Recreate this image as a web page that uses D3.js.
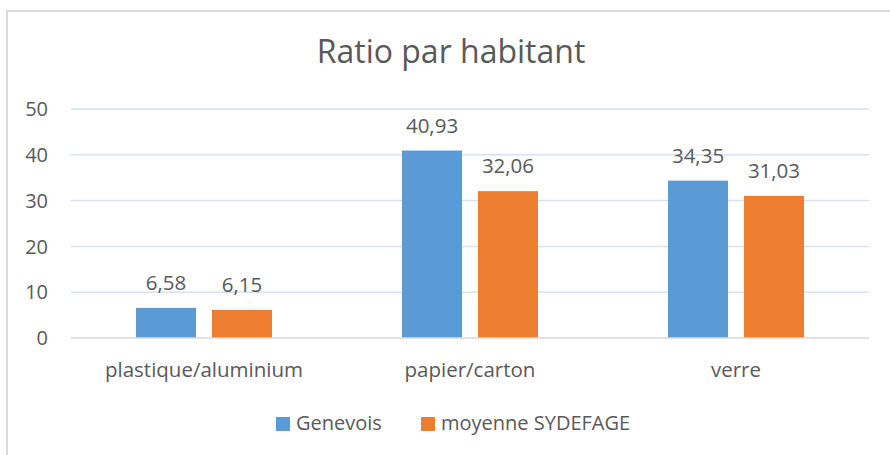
<!DOCTYPE html>
<html>
<head>
<meta charset="utf-8">
<script src="https://cdn.jsdelivr.net/npm/d3@7"></script>
<style>
  body { margin: 0; background: #fff; }
  text { font-family: "Open Sans", sans-serif; fill: #595959; }
</style>
</head>
<body>
<div id="chart"></div>
<script>
var categories = ['plastique/aluminium', 'papier/carton', 'verre'];
var series = ['Genevois', 'moyenne SYDEFAGE'];
var genevois = [6.58, 40.93, 34.35];
var sydefage = [6.15, 32.06, 31.03];
var yTicks = [0, 10, 20, 30, 40, 50];
var colors = ['#5b9bd5', '#ed7d31'];

var width = 890,
    height = 455;

var margin = { top: 109, right: 21, bottom: 117, left: 71 };

var svg = d3.select('#chart')
    .append('svg')
    .attr('width', width)
    .attr('height', height);

// chart frame
svg.append('rect')
    .attr('x', 7)
    .attr('y', 11)
    .attr('width', 1000)
    .attr('height', 600)
    .attr('fill', 'none')
    .attr('stroke', '#d9d9d9')
    .attr('stroke-width', 2);

var x0 = d3.scaleBand()
    .domain(categories)
    .range([margin.left, width - margin.right]);

var x1 = d3.scaleBand()
    .domain(series)
    .range([0, 136])
    .paddingInner(0.21);

var y = d3.scaleLinear()
    .domain([0, 50])
    .range([height - margin.bottom, margin.top]);

// gridlines
svg.append('g')
    .selectAll('line')
    .data(yTicks.slice(1))
    .enter()
    .append('line')
    .attr('x1', margin.left)
    .attr('x2', width - margin.right)
    .attr('y1', d => y(d))
    .attr('y2', d => y(d))
    .attr('stroke', '#d5e2f2')
    .attr('stroke-width', 1.5);

// y labels
svg.append('g')
    .selectAll('text')
    .data(yTicks)
    .enter()
    .append('text')
    .attr('x', 48)
    .attr('y', d => y(d))
    .attr('dy', '0.36em')
    .attr('text-anchor', 'end')
    .style('font-size', '20px')
    .text(d => d);

var rows = categories.map((c, i) => ({ cat: c, vals: [genevois[i], sydefage[i]] }));

var groups = svg.append('g')
    .selectAll('g')
    .data(rows)
    .enter()
    .append('g')
    .attr('transform', d => 'translate(' + (x0(d.cat) + (x0.bandwidth() - 136) / 2) + ',0)');

groups.selectAll('rect')
    .data(d => d.vals.map((v, j) => ({ s: series[j], v: v, j: j })))
    .enter()
    .append('rect')
    .attr('x', d => x1(d.s))
    .attr('y', d => y(d.v))
    .attr('width', x1.bandwidth())
    .attr('height', d => y(0) - y(d.v))
    .attr('fill', d => colors[d.j]);

groups.selectAll('text')
    .data(d => d.vals.map((v, j) => ({ s: series[j], v: v })))
    .enter()
    .append('text')
    .attr('x', d => x1(d.s) + x1.bandwidth() / 2)
    .attr('y', d => y(d.v) - 18)
    .attr('text-anchor', 'middle')
    .style('font-size', '20.5px')
    .text(d => d3.format('.2f')(d.v).replace('.', ','));

// x axis line
svg.append('line')
    .attr('x1', margin.left)
    .attr('x2', width - margin.right)
    .attr('y1', y(0))
    .attr('y2', y(0))
    .attr('stroke', '#d9d9d9')
    .attr('stroke-width', 1.5);

// category labels
svg.append('g')
    .selectAll('text')
    .data(categories)
    .enter()
    .append('text')
    .attr('x', d => x0(d) + x0.bandwidth() / 2)
    .attr('y', 377)
    .attr('text-anchor', 'middle')
    .style('font-size', '20.5px')
    .text(d => d);

// title
svg.append('text')
    .attr('x', 451)
    .attr('y', 63)
    .attr('text-anchor', 'middle')
    .style('font-size', '32px')
    .text('Ratio par habitant');

// legend
var legendX = [276, 421];
var legend = svg.append('g')
    .selectAll('g')
    .data(series)
    .enter()
    .append('g')
    .attr('transform', (d, i) => 'translate(' + legendX[i] + ',417)');

legend.append('rect')
    .attr('width', 14)
    .attr('height', 14)
    .attr('fill', (d, i) => colors[i]);

legend.append('text')
    .attr('x', 20)
    .attr('y', 13)
    .style('font-size', '20px')
    .text(d => d);
</script>
</body>
</html>
